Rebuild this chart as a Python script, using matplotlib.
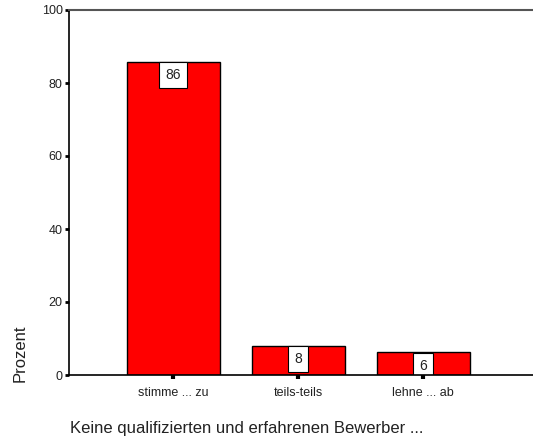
import matplotlib
matplotlib.use("Agg")
import matplotlib.pyplot as plt

categories = ["stimme ... zu", "teils-teils", "lehne ... ab"]
values = [85.8, 8.0, 6.2]
labels = ["86", "8", "6"]
yticks = [0, 20, 40, 60, 80, 100]

plt.rcParams['font.family'] = ['Liberation Sans', 'DejaVu Sans']

fig = plt.figure(figsize=(5.33, 4.41), dpi=100)
ax = fig.add_axes([69/533, 66/441, 1 - 69/533, 365/441])

x = list(range(len(categories)))
ax.bar(x, values, width=0.744, color="#FF0000", edgecolor="black", linewidth=1, zorder=2)

for xi, v, lab in zip(x, values, labels):
    t = ax.annotate(lab, xy=(xi, v), xytext=(0, -4.5), textcoords="offset points",
                    ha="center", va="top", fontsize=10, color="#222222",
                    bbox=dict(boxstyle="square,pad=0.42", fc="white", ec="black", lw=0.8),
                    zorder=3)
    t.set_clip_on(True)
    bp = t.get_bbox_patch()
    bp.set_clip_on(True)
    bp.set_clip_box(ax.bbox)

ax.set_xlim(-0.832, 2.88)
ax.set_ylim(0, 100)
ax.set_xticks(x)
ax.set_xticklabels(categories, fontsize=9, color="#222222")
ax.set_yticks(yticks)
ax.set_yticklabels([str(t) for t in yticks], fontsize=9, color="#222222")
ax.tick_params(axis="y", direction="out", length=3, width=2, pad=1.5, color="black")
ax.tick_params(axis="x", direction="out", length=3, width=3, pad=6, color="black")

ax.spines["right"].set_visible(False)
ax.spines["top"].set_color("#555555")
ax.spines["top"].set_linewidth(1.5)
ax.spines["left"].set_linewidth(1.2)
ax.spines["bottom"].set_linewidth(1.2)
for s in ax.spines.values():
    s.set_zorder(4)

fig.text(70/533, 1 - 428/441, "Keine qualifizierten und erfahrenen Bewerber ...",
         fontsize=12, color="#222222", ha="left", va="center")
fig.text(20/533, 1 - 353/441, "Prozent", fontsize=12, color="#222222",
         rotation=90, ha="center", va="center")

fig.savefig("out.png", dpi=100)
